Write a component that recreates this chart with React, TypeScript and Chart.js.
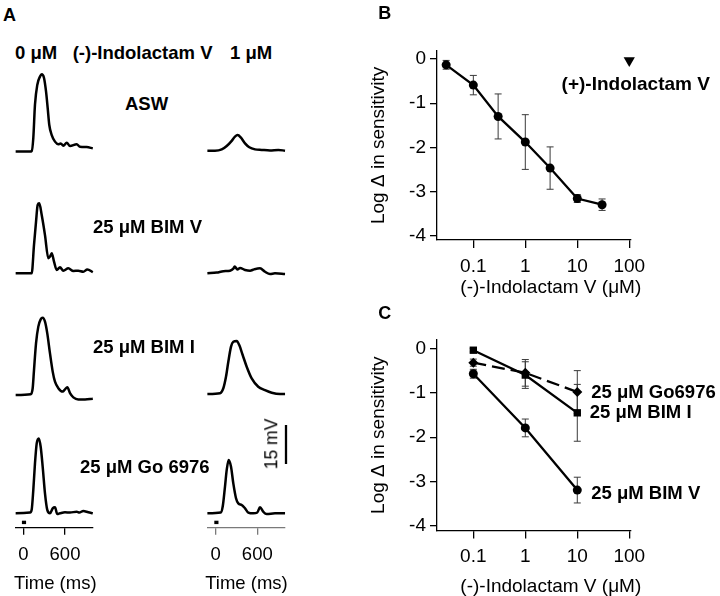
import React, { useEffect, useRef } from 'react';
import { Chart, registerables } from 'chart.js';

Chart.register(...registerables);

const FONT = "'Liberation Sans', Arial, Helvetica, sans-serif";

// ---------- Panel A: voltage traces (time in ms, depolarisation in mV) ----------
const aswControlT = [-110, 96, 121, 144, 168, 201, 240, 265, 298, 327, 351, 374, 409, 456, 504, 538, 576, 625, 672, 768, 816, 912, 1000];
const aswControlMv = [0, 0, 0.2, 5.2, 18, 25.6, 28.8, 29.7, 28.3, 23.1, 16.7, 10.2, 6.3, 3.8, 2.8, 3.1, 2.2, 3.4, 2.1, 2.8, 1.8, 1.7, 1.2];
const aswDrugT = [-120, -10, 87, 159, 231, 278, 317, 361, 423, 485, 567, 663, 783, 903, 1000];
const aswDrugMv = [0, 0, 0.5, 1.8, 3.8, 5.4, 6.0, 5.1, 2.8, 1.3, 0.5, 0.3, 0.1, 0.3, 0];

const bimVControlT = [-110, 121, 154, 183, 207, 230, 265, 312, 360, 384, 409, 442, 481, 528, 576, 648, 720, 791, 863, 921, 1000];
const bimVControlMv = [0, 0, 10.9, 19.8, 26.3, 26.9, 22.4, 14.7, 5.8, 6.4, 7.7, 4.5, 1.3, 2.3, 1.0, 1.9, 0.9, 1.0, 0.6, 1.5, 0.4];
const bimVDrugT = [-120, 14, 111, 207, 255, 274, 313, 351, 423, 495, 553, 639, 711, 783, 855, 1000];
const bimVDrugMv = [0, 0.3, 0.8, 1.0, 1.8, 2.6, 1.5, 2.05, 1.3, 1.0, 1.5, 1.9, 0.6, -0.3, 0, -0.3];

const bimIControlT = [-110, 106, 135, 154, 183, 216, 250, 279, 312, 345, 384, 423, 456, 504, 567, 600, 633, 672, 720, 791, 888, 1000];
const bimIControlMv = [0, 0.3, 2.6, 9.6, 19.9, 26.3, 29.1, 29.7, 28.2, 23.7, 16, 9, 5.1, 2.6, 1.3, 2.2, 3.0, 0.7, -0.9, -1.7, -1.7, -1.4];
const bimIDrugT = [-120, 62, 110, 149, 182, 221, 254, 303, 340, 389, 447, 519, 614, 711, 808, 928, 1000];
const bimIDrugMv = [0, 0.3, 2.2, 6.7, 12.4, 18.2, 20.1, 20.4, 18.8, 15, 10.5, 6, 2.8, 1.5, 0.5, 0, 0];

const goControlT = [-110, 96, 121, 144, 168, 193, 222, 250, 279, 312, 345, 384, 423, 456, 489, 528, 600, 672, 768, 806, 863, 935, 1000];
const goControlMv = [0, 0.3, 1.5, 9, 19.2, 26.9, 28.8, 25.6, 17.9, 7.7, 1.3, 0, 1.9, 2.3, -0.3, 0, 0.4, 0.3, 0.6, 0.3, 0.9, 0.4, 0];
const goDrugT = [-120, 72, 101, 134, 159, 187, 221, 254, 293, 326, 375, 423, 470, 542, 600, 639, 686, 735, 855, 1000];
const goDrugMv = [0, 0.3, 2.6, 10.3, 16.7, 20.5, 17.9, 11.5, 5.8, 3.8, 3.2, 1.9, 0.3, 0, 0.3, 2.3, 0.6, -0.3, 0, 0];

const stimulusT = [-20, 40];
const stimulusMv = [-3.5, -3.5];
const timeTicks = [0, 600];
const scaleBarMv = [0, 15];

// ---------- Panel B ----------
const bConcentrations = [0.03, 0.1, 0.3, 1, 3, 10, 30];
const bLogChange = [-0.13, -0.59, -1.3, -1.88, -2.47, -3.16, -3.3];
const bError = [0.1, 0.22, 0.51, 0.62, 0.48, 0.09, 0.13];
const plusConcentration = [100];
const plusLogChange = [-0.03];

// ---------- Panel C ----------
const cConcentrations = [0.1, 1, 10];
const cGo6976 = [-0.32, -0.55, -0.98];
const cGo6976Error = [0.08, 0.3, 0.48];
const cBimI = [-0.04, -0.6, -1.45];
const cBimIError = [0.04, 0.3, 0.64];
const cBimV = [-0.57, -1.79, -3.19];
const cBimVError = [0.1, 0.2, 0.29];

const logXTicks = [0.1, 1, 10, 100];
const logYTicks = [-4, -3, -2, -1, 0];

// ---------- layout constants ----------
const MV_PX = 2.6;
const TRACE_MAX = 32;
const TRACE_MIN = -5.6;
const LEFT_COL = { tMin: -110, tMax: 1000, zeroPx: 23.3, pxPerMs: 41.7 / 600, axisColor: '#000' };
const RIGHT_COL = { tMin: -120, tMax: 1000, zeroPx: 215.7, pxPerMs: 41.6 / 600, axisColor: '#7a7a7a' };

type Rect = { left: number; top: number; width: number; height: number };

const pts = (xs: number[], ys: number[]) => xs.map((x, i) => ({ x, y: ys[i] }));

const errorBarPlugin = {
  id: 'errorBars',
  beforeDatasetsDraw(chart: any) {
    const ctx = chart.ctx;
    const yScale = chart.scales.y;
    chart.data.datasets.forEach((ds: any, i: number) => {
      if (!ds.errors) return;
      const meta = chart.getDatasetMeta(i);
      ctx.save();
      ctx.strokeStyle = '#3a3a3a';
      ctx.lineWidth = 1;
      meta.data.forEach((el: any, j: number) => {
        const e = ds.errors[j];
        if (!e) return;
        const v = ds.data[j].y;
        const yt = yScale.getPixelForValue(v + e);
        const yb = yScale.getPixelForValue(v - e);
        const x = el.x;
        ctx.beginPath();
        ctx.moveTo(x, yt);
        ctx.lineTo(x, yb);
        ctx.moveTo(x - 3.5, yt);
        ctx.lineTo(x + 3.5, yt);
        ctx.moveTo(x - 3.5, yb);
        ctx.lineTo(x + 3.5, yb);
        ctx.stroke();
      });
      ctx.restore();
    });
  },
};

const endLabelPlugin = {
  id: 'endLabels',
  afterDatasetsDraw(chart: any) {
    const ctx = chart.ctx;
    chart.data.datasets.forEach((ds: any, i: number) => {
      const lab = ds.endLabel;
      if (!lab) return;
      const meta = chart.getDatasetMeta(i);
      const el = meta.data[meta.data.length - 1];
      ctx.save();
      ctx.font = `bold ${lab.size}px ${FONT}`;
      ctx.fillStyle = '#000';
      ctx.textAlign = lab.align || 'left';
      ctx.textBaseline = 'middle';
      ctx.fillText(lab.text, el.x + lab.dx, el.y + lab.dy);
      ctx.restore();
    });
  },
};

function ChartBox({ rect, config }: { rect: Rect; config: any }) {
  const ref = useRef<HTMLCanvasElement>(null);
  useEffect(() => {
    const chart = new Chart(ref.current as HTMLCanvasElement, config);
    return () => chart.destroy();
  }, []);
  return (
    <canvas
      ref={ref}
      width={rect.width}
      height={rect.height}
      style={{ position: 'absolute', left: rect.left, top: rect.top, width: rect.width, height: rect.height }}
    />
  );
}

function traceSpec(t: number[], mv: number[], col: typeof LEFT_COL, baseline: number, withAxis: boolean) {
  const areaLeft = col.zeroPx + col.tMin * col.pxPerMs;
  const areaRight = col.zeroPx + col.tMax * col.pxPerMs;
  const areaTop = baseline - TRACE_MAX * MV_PX;
  const areaBottom = baseline - TRACE_MIN * MV_PX;
  const axisH = withAxis ? 45 : 0;
  const left = Math.floor(areaLeft - 12);
  const right = Math.ceil(areaRight + 12);
  const top = Math.floor(areaTop - 4);
  const bottom = Math.ceil(areaBottom + 4 + axisH);
  const rect: Rect = { left, top, width: right - left, height: bottom - top };
  const padding = {
    left: areaLeft - left,
    right: right - areaRight,
    top: areaTop - top,
    bottom: bottom - areaBottom - axisH,
  };
  const datasets: any[] = [
    {
      data: pts(t, mv),
      borderColor: '#000',
      borderWidth: 2.5,
      pointRadius: 0,
      cubicInterpolationMode: 'monotone',
      clip: false,
    },
  ];
  if (withAxis) {
    datasets.push({
      data: pts(stimulusT, stimulusMv),
      borderColor: '#000',
      borderWidth: 3.4,
      borderCapStyle: 'butt',
      pointRadius: 0,
      clip: false,
    });
  }
  const config = {
    type: 'line',
    data: { datasets },
    options: {
      animation: false,
      responsive: false,
      events: [],
      layout: { padding },
      plugins: { legend: { display: false }, tooltip: { enabled: false } },
      scales: {
        x: {
          type: 'linear',
          min: col.tMin,
          max: col.tMax,
          display: withAxis,
          afterBuildTicks: (s: any) => {
            s.ticks = timeTicks.map((v) => ({ value: v }));
          },
          afterFit: (s: any) => {
            s.height = axisH;
          },
          grid: { drawOnChartArea: false, drawTicks: true, tickLength: 7, color: col.axisColor, lineWidth: 1.3 },
          border: { display: true, color: col.axisColor, width: 1.3 },
          ticks: {
            color: '#000',
            font: { family: FONT, size: 18.5 },
            padding: 9,
            maxRotation: 0,
            autoSkip: false,
            callback: (v: any) => String(v),
          },
        },
        y: { type: 'linear', min: TRACE_MIN, max: TRACE_MAX, display: false },
      },
    },
  };
  return { rect, config };
}

function scaleBarSpec() {
  const areaTop = 425;
  const areaBottom = areaTop + 15 * MV_PX;
  const rect: Rect = { left: 276, top: 420, width: 20, height: Math.ceil(areaBottom + 5) - 420 };
  const config = {
    type: 'line',
    data: {
      datasets: [
        {
          data: scaleBarMv.map((v) => ({ x: 0, y: v })),
          borderColor: '#000',
          borderWidth: 2.3,
          borderCapStyle: 'butt',
          pointRadius: 0,
          clip: false,
        },
      ],
    },
    options: {
      animation: false,
      responsive: false,
      events: [],
      layout: { padding: { left: 9, right: 9, top: areaTop - 420, bottom: rect.top + rect.height - areaBottom } },
      plugins: { legend: { display: false }, tooltip: { enabled: false } },
      scales: {
        x: { type: 'linear', min: -1, max: 1, display: false },
        y: { type: 'linear', min: 0, max: 15, display: false },
      },
    },
  };
  return { rect, config };
}

const Y_AXIS_W = 97;
const X_AXIS_H = 50;

function logPanelSpec(datasets: any[], canvas: Rect, area: { left: number; top: number; right: number; bottom: number }) {
  const padding = {
    left: area.left - canvas.left - Y_AXIS_W,
    top: area.top - canvas.top,
    right: canvas.left + canvas.width - area.right,
    bottom: canvas.top + canvas.height - area.bottom - X_AXIS_H,
  };
  const axisGrid = { drawOnChartArea: false, drawTicks: true, color: '#000', lineWidth: 1.3 };
  const config = {
    type: 'line',
    data: { datasets },
    options: {
      animation: false,
      responsive: false,
      events: [],
      layout: { padding },
      plugins: { legend: { display: false }, tooltip: { enabled: false } },
      scales: {
        x: {
          type: 'logarithmic',
          min: 0.02,
          max: 108,
          afterBuildTicks: (s: any) => {
            s.ticks = logXTicks.map((v) => ({ value: v }));
          },
          afterFit: (s: any) => {
            s.height = X_AXIS_H;
          },
          grid: { ...axisGrid, tickLength: 8 },
          border: { display: true, color: '#000', width: 1.3 },
          ticks: {
            color: '#000',
            font: { family: FONT, size: 19 },
            padding: 7,
            maxRotation: 0,
            autoSkip: false,
            callback: (v: any) => String(v),
          },
        },
        y: {
          type: 'linear',
          min: -4.1,
          max: 0.19,
          afterBuildTicks: (s: any) => {
            s.ticks = logYTicks.map((v) => ({ value: v }));
          },
          afterFit: (s: any) => {
            s.width = Y_AXIS_W;
          },
          grid: { ...axisGrid, tickLength: 7 },
          border: { display: true, color: '#000', width: 1.3 },
          ticks: {
            color: '#000',
            font: { family: FONT, size: 19 },
            padding: 4,
            autoSkip: false,
            callback: (v: any) => String(v),
          },
          title: {
            display: true,
            text: 'Log \u0394 in sensitivity',
            color: '#000',
            font: { family: FONT, size: 19 },
            padding: { top: 27.6, bottom: 0 },
          },
        },
      },
    },
    plugins: [errorBarPlugin, endLabelPlugin],
  };
  return { rect: canvas, config };
}

const seriesStyle = {
  borderColor: '#000',
  backgroundColor: '#000',
  borderWidth: 2.3,
  pointBorderWidth: 0,
  pointBackgroundColor: '#000',
  clip: false,
};

const panelB = logPanelSpec(
  [
    {
      ...seriesStyle,
      data: pts(bConcentrations, bLogChange),
      errors: bError,
      pointStyle: 'circle',
      pointRadius: 4.5,
    },
    {
      ...seriesStyle,
      data: pts(plusConcentration, plusLogChange),
      showLine: false,
      pointStyle: 'triangle',
      pointRotation: 180,
      pointRadius: 6.5,
      endLabel: { text: '(+)-Indolactam V', dx: 6.5, dy: 24, size: 19, align: 'center' },
    },
  ],
  { left: 340, top: 0, width: 380, height: 300 },
  { left: 437, top: 50.7, right: 631, bottom: 240 }
);

const panelC = logPanelSpec(
  [
    {
      ...seriesStyle,
      data: pts(cConcentrations, cBimV),
      errors: cBimVError,
      pointStyle: 'circle',
      pointRadius: 4.5,
      endLabel: { text: '25 \u03bcM BIM V', dx: 14, dy: 4, size: 18.5 },
    },
    {
      ...seriesStyle,
      data: pts(cConcentrations, cBimI),
      errors: cBimIError,
      pointStyle: 'rect',
      pointRadius: 5.2,
      endLabel: { text: '25 \u03bcM BIM I', dx: 12.5, dy: 0.3, size: 18.5 },
    },
    {
      ...seriesStyle,
      data: pts(cConcentrations, cGo6976),
      errors: cGo6976Error,
      borderDash: [13, 6],
      pointStyle: 'rectRot',
      pointRadius: 5,
      endLabel: { text: '25 \u03bcM Go6976', dx: 14, dy: 1.3, size: 18.5 },
    },
  ],
  { left: 340, top: 300, width: 380, height: 296 },
  { left: 437, top: 340, right: 631, bottom: 530.5 }
);

const traces = [
  traceSpec(aswControlT, aswControlMv, LEFT_COL, 151.5, false),
  traceSpec(aswDrugT, aswDrugMv, RIGHT_COL, 150.7, false),
  traceSpec(bimVControlT, bimVControlMv, LEFT_COL, 273.3, false),
  traceSpec(bimVDrugT, bimVDrugMv, RIGHT_COL, 273.3, false),
  traceSpec(bimIControlT, bimIControlMv, LEFT_COL, 395, false),
  traceSpec(bimIDrugT, bimIDrugMv, RIGHT_COL, 394, false),
  traceSpec(goControlT, goControlMv, LEFT_COL, 513.3, true),
  traceSpec(goDrugT, goDrugMv, RIGHT_COL, 513.3, true),
];

type TextLabel = { text: string; x: number; y: number; size: number; bold?: boolean; align?: 'left' | 'center'; rotate?: number };

const textLabels: TextLabel[] = [
  { text: 'A', x: 3, y: 15, size: 18, bold: true },
  { text: '0 \u03bcM', x: 15, y: 52.7, size: 18.5, bold: true },
  { text: '(-)-Indolactam V', x: 72.7, y: 52.7, size: 18.5, bold: true },
  { text: '1 \u03bcM', x: 230, y: 52.7, size: 18.5, bold: true },
  { text: 'ASW', x: 125, y: 104, size: 18.5, bold: true },
  { text: '25 \u03bcM BIM V', x: 93, y: 226.7, size: 18.5, bold: true },
  { text: '25 \u03bcM BIM I', x: 93, y: 347.3, size: 18.5, bold: true },
  { text: '25 \u03bcM Go 6976', x: 80, y: 466.7, size: 18.5, bold: true },
  { text: 'Time (ms)', x: 55.3, y: 582.7, size: 18.5, align: 'center' },
  { text: 'Time (ms)', x: 246.5, y: 582.7, size: 18.5, align: 'center' },
  { text: '15 mV', x: 271.7, y: 444, size: 17.5, rotate: -90 },
  { text: 'B', x: 378.3, y: 13.3, size: 18, bold: true },
  { text: 'C', x: 378.3, y: 312.5, size: 18, bold: true },
  { text: '(-)-Indolactam V (\u03bcM)', x: 550.8, y: 286, size: 19, align: 'center' },
  { text: '(-)-Indolactam V (\u03bcM)', x: 550.8, y: 585.7, size: 19, align: 'center' },
];

function Label({ l }: { l: TextLabel }) {
  const base: React.CSSProperties = {
    position: 'absolute',
    whiteSpace: 'nowrap',
    lineHeight: 1,
    fontSize: l.size,
    fontWeight: l.bold ? 'bold' : 'normal',
    fontFamily: FONT,
    color: '#000',
  };
  if (l.rotate) {
    return (
      <div style={{ ...base, left: l.x, top: l.y, transform: `translate(-50%, -50%) rotate(${l.rotate}deg)` }}>{l.text}</div>
    );
  }
  return (
    <div
      style={{
        ...base,
        left: l.x,
        top: l.y - l.size * 0.49,
        transform: l.align === 'center' ? 'translateX(-50%)' : undefined,
      }}
    >
      {l.text}
    </div>
  );
}

export default function App() {
  const bar = scaleBarSpec();
  return (
    <div
      style={{
        position: 'absolute',
        left: 0,
        top: 0,
        width: 720,
        height: 596,
        background: '#fff',
        overflow: 'hidden',
        fontFamily: FONT,
      }}
    >
      {traces.map((s, i) => (
        <ChartBox key={i} rect={s.rect} config={s.config} />
      ))}
      <ChartBox rect={bar.rect} config={bar.config} />
      <ChartBox rect={panelB.rect} config={panelB.config} />
      <ChartBox rect={panelC.rect} config={panelC.config} />
      {textLabels.map((l, i) => (
        <Label key={i} l={l} />
      ))}
    </div>
  );
}
